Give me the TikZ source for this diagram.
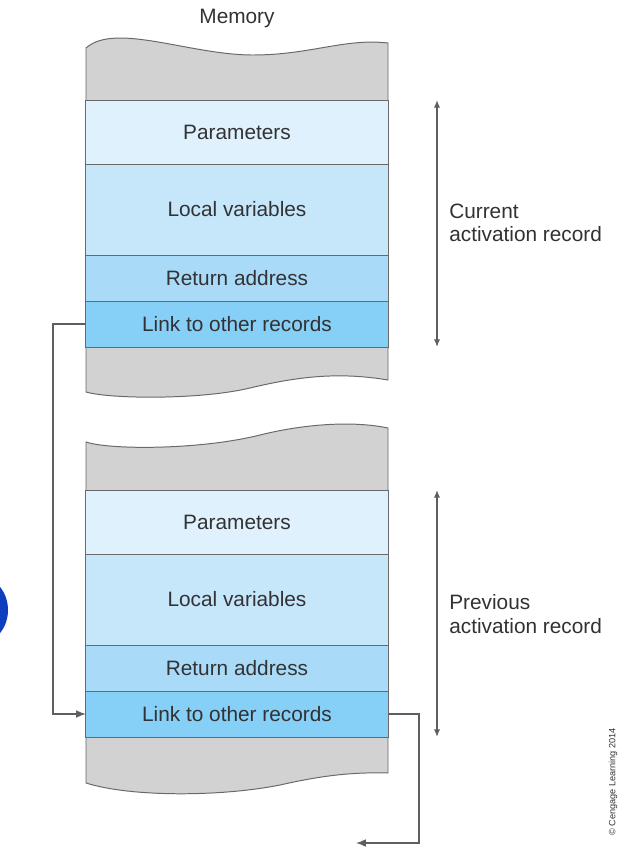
\documentclass[tikz,border=0pt]{standalone}
\usepackage{fontspec}
\setmainfont{Liberation Sans}
\usetikzlibrary{arrows.meta}

\begin{document}
\begin{tikzpicture}[x=0.025cm, y=-0.025cm,
    field/.style={draw=edgegray, line width=0.7pt, minimum width=7.55cm,
        inner sep=0pt, outer sep=0pt, text=labelgray,
        font=\fontsize{14.8}{16.5}\selectfont},
    note/.style={text=labelgray, align=left, inner sep=0pt,
        font=\fontsize{14.8}{16.5}\selectfont},
    wave/.style={fill=memfill, draw=edgegray, line width=0.7pt},
    span/.style={draw=linegray, line width=1pt, {Latex[length=5.5pt,width=4.5pt]}-{Latex[length=5.5pt,width=4.5pt]}},
    link/.style={draw=linegray, line width=1pt, -{Latex[length=7pt,width=5.5pt]}}]
        % Define colours
        \definecolor{memfill}{RGB}{210,210,211}
        \definecolor{parfill}{RGB}{223,241,252}
        \definecolor{locfill}{RGB}{198,230,250}
        \definecolor{retfill}{RGB}{169,219,248}
        \definecolor{lnkfill}{RGB}{134,207,246}
        \definecolor{edgegray}{RGB}{105,105,108}
        \definecolor{linegray}{RGB}{95,95,95}
        \definecolor{labelgray}{RGB}{50,50,53}
        \definecolor{blobblue}{RGB}{12,62,190}
        % Fix the page size
        \useasboundingbox (0,0) rectangle (620,858);

        % Memory label
        \node[note] (memlbl) at (237,18) {Memory};

        % Grey memory above and below each record
        \filldraw[wave] (388,100) -- (388,43) .. controls (345,38) and (310,55) .. (253,55)
            .. controls (190,55) and (115,22) .. (86,48) -- (86,100);
        \filldraw[wave] (86,347) -- (86,392) .. controls (110,399) and (200,400) .. (250,388)
            .. controls (300,376) and (340,372) .. (388,380) -- (388,347);
        \filldraw[wave] (388,490) -- (388,428) .. controls (350,420) and (300,425) .. (260,435)
            .. controls (200,450) and (110,450) .. (86,442) -- (86,490);
        \filldraw[wave] (86,737) -- (86,783) .. controls (130,797) and (220,797) .. (280,785)
            .. controls (320,776) and (350,772) .. (388,773) -- (388,737);

        % Draw the two activation records
        \foreach \b/\yo in {1/0,2/390} {
            \node[field, fill=parfill, minimum height=1.6cm]   (par\b) at (237,132+\yo) {Parameters};
            \node[field, fill=locfill, minimum height=2.275cm] (loc\b) at (237,209.5+\yo) {Local variables};
            \node[field, fill=retfill, minimum height=1.15cm]  (ret\b) at (237,278+\yo) {Return address};
            \node[field, fill=lnkfill, minimum height=1.15cm]  (lnk\b) at (237,324+\yo) {Link to other records};
        }

        % Extent of each record
        \coordinate (curtop) at (437,100);
        \coordinate (curbot) at (437,347);
        \coordinate (prvtop) at (437,490);
        \coordinate (prvbot) at (437,737);
        \draw[span] (curtop) -- (curbot);
        \draw[span] (prvtop) -- (prvbot);
        \node[note, anchor=west] (curlbl) at (449,223) {Current\\activation record};
        \node[note, anchor=west] (prvlbl) at (449,614) {Previous\\activation record};

        % Links between records
        \coordinate (outend) at (356,843);
        \draw[link] (lnk1.west) -- ++(-33,0) |- (lnk2.west);
        \draw[link] (lnk2.east) -- ++(31,0) |- (outend);

        % Credit line
        \node[text=labelgray, rotate=90, inner sep=0pt, font=\fontsize{6.5}{7}\selectfont]
            (credit) at (613,782) {\textcopyright{} Cengage Learning 2014};

        % Blue shape cut off at the left edge
        \begin{scope}
            \clip (0,0) rectangle (620,858);
            \fill[blobblue] (-22,610) ellipse [x radius=0.75cm, y radius=0.85cm];
        \end{scope}
\end{tikzpicture}
\end{document}
